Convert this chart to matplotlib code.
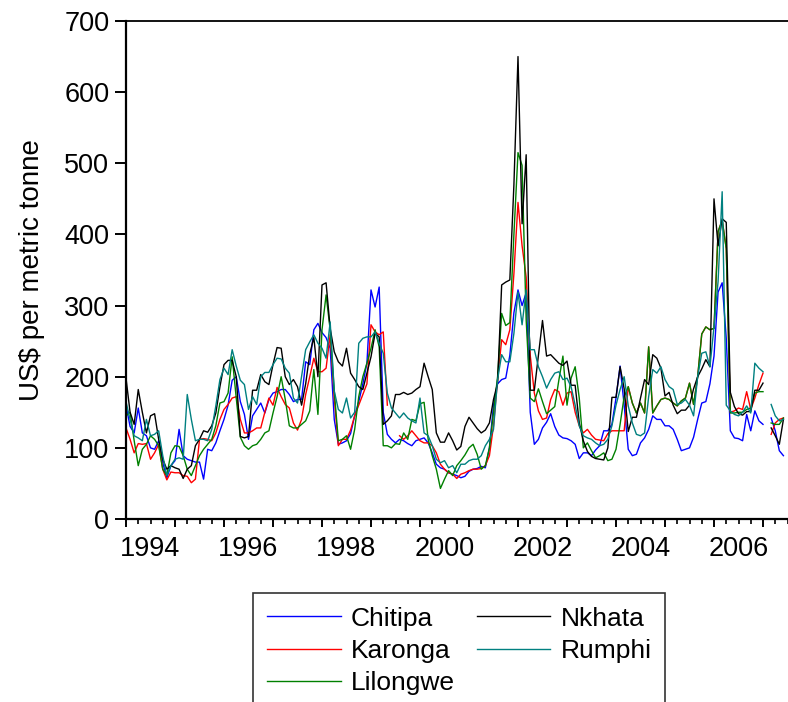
import numpy as np
import matplotlib
matplotlib.use('Agg')
import matplotlib.pyplot as plt

nan = np.nan

# monthly maize prices, US$ per metric tonne, Jan 1994 onwards
chitipa = [160, 130, 121, 156, 121, 117, 100, 98, 110, 79, 58, 75, 82, 126, 89, 84, 82, 80, 80, 56, 98, 96, 107, 124, 140, 160,
           195, 200, 165, 147, 112, 145, 154, 163, 149, 168, 177, 179, 182, 182, 175, 165, 168, 168, 221, 217, 266, 275, 262, 255, 240, 140, 105,
           107, 110, 120, 145, 165, 190, 219, 322, 298, 326, 150, 119, 112, 107, 112, 110, 106, 103, 110, 112, 114, 107, 93, 77, 72, 70, 65,
           63, 61, 58, 60, 67, 70, 71, 74, 72, 100, 160, 190, 196, 198, 230, 290, 322, 300, 318, 150, 105, 112, 128, 136, 148, 130, 118, 114,
           113, 110, 105, 85, 93, 93, 89, 97, 103, 124, 124, 133, 170, 215, 160, 98, 89, 91, 107, 114, 126, 145, 140, 140, 131,
           131, 126, 112, 96, 98, 100, 115, 140, 163, 165, 190, 229, 319, 332, 254, 124, 114, 113, 110, 147, 124, 152, 138, 133,
           nan, 142, 124, 96, 89]
karonga = [128, 112, 93, 106, 105, 106, 84, 93, 105, 70, 55, 66, 65, 65, 61, 60, 51, 56, 112, 113, 112, 110, 121, 140, 154, 161, 170,
           172, 140, 121, 121, 124, 128, 128, 150, 170, 160, 185, 172, 161, 156, 135, 125, 140, 175, 200, 226, 207, 207, 212, 259, 170, 103,
           112, 112, 125, 145, 160, 175, 190, 273, 263, 259, 263, 160, nan, nan, 117, 112, 117, 124, 117, 110, 107, 107, 103, 93, 77, 70, 65,
           63, 57, 63, 65, 68, 70, 70, 71, 75, 89, 131, 196, 252, 245, 266, 345, 445, 384, 340, 230, 177, 152, 140, 142, 168, 182, 179, 160,
           177, 179, 150, 131, 121, 126, 118, 112, 111, 110, 120, 124, 124, 124, 124,
           186, 163, 149, 163, 149, 242, 149, 159, 168, 170, 168, 163, 159, 166, 170, 191, 161, 200, 260, 270, 266, 268, 404, 420, 380,
           150, 152, 156, 154, 179, 154, 170, 189, 205,
           nan, 119, 135, 140, 142]
lilongwe = [145, 150, 110, 75, 98, 105, 117, 112, 103, 70, 61, 93, 103, 102, 89, 70, 61, 75, 89, 98, 105, 112, 131, 163, 165, 177, 228,
            170, 115, 103, 98, 103, 105, 112, 121, 124, 149, 172, 200, 168, 131, 128, 128, 133, 138, 152, 210, 147, 266, 315, 266, 180, 110,
            112, 117, 98, 126, 172, 200, 219, 240, 266, 242, 103, 103, 100, 106, 105, 121, 112, 140, 138, 162, 164, 112, 89, 70, 43, 56, 68,
            61, 75, 82, 90, 100, 105, 91, 70, 75, 100, 150, 200, 289, 272, 276, 400,
            515, 497, 280, 170, 165, 183, 165, 148, 153, 158, 195, 229, 160, 198, 214, 170, 100,
            107, 96, 86, 89, 93, 82, 84, 98, 133, 172, 186, 163, 149, 163, 149, 242, 149, 159, 168, 170, 168, 163, 159, 166,
            170, 191, 161, 200, 260, 270, 266, 268, 404, 420, 380,
            149, 149, 150, 150, 154, 156, 177, 179, 179,
            nan, 135, 133, 133, 142]
nkhata = [198, 150, 133, 182, 150, 121, 145, 148, 112, 84, 70, 75, 72, 70, 57, 70, 75, 103, 112, 124, 122, 131, 149, 186, 217, 223, 223,
          200, 116, 114, 116, 181, 181, 203, 193, 189, 217, 241, 240, 200, 189, 196, 186, 160, 190, 232, 255, 200, 329, 332, 268, 235, 221,
          215, 240, 205, 196, 186, 182, 205, 228, 261, 256, 133, 138, 145, 175, 175, 178, 175, 177, 182, 186, 219, 200, 182, 121, 108, 108, 121,
          110, 97, 102, 130, 143, 135, 127, 121, 125, 135, 168, 191, 329, 333, 336, 470, 650, 415, 512, 181, 181, 230, 279, 229, 231, 225, 219, 216,
          222, 188, 188, 135, 110, 95, 88, 85, 84, 83, 100, 171, 171, 214, 183, 123, 143, 143, 170, 196, 189, 231, 226, 212, 173,
          178, 160, 148, 153, 153, 160, 183, 200, 211, 224, 214, 450, 384, 422, 417, 178, 158, 148, 146, 151, 151, 181, 181, 191,
          nan, 128, 117, 105, 140]
rumphi = [165, 140, 117, 114, 110, 140, 117, 119, 124, 89, 61, 75, 84, 86, 84, 175, 140, 110, 112, 112, 110, 126, 159, 196, 212, 203, 238,
          215, 195, 189, 154, 172, 161, 200, 206, 206, 217, 226, 225, 212, 205, 170, 163, 200, 238, 249, 259, 247, 240, 226, 277, 180, 154,
          149, 170, 142, 150, 247, 254, 256, 256, 263, 247, 233, 177, 156, 149, 142, 149, 142, 138, 135, 170, 121, 117, 103, 84, 79, 82, 72,
          75, 65, 77, 77, 82, 84, 84, 89, 103, 112, 126, 196, 231, 221, 221, 261, 319, 273, 322, 238, 238, 214, 200, 184, 196, 205, 207, 196,
          198, 186, 160, 131, 117, 114, 112, 107, 103, 105, 112, 131, 160, 182, 200, 159, 135, 119, 117, 121, 172, 210, 205, 214, 196, 186, 182,
          161, 163, 168, 160, 145, 200, 233, 235, 214, 270, 334, 460, 160, 152, 147, 145, 150, 159, 149, 219, 212, 207,
          nan, 161, 145, 138, 140]

names = ['Chitipa', 'Karonga', 'Lilongwe', 'Nkhata', 'Rumphi']
colors = ['#0000ff', '#ff0000', '#008000', '#000000', '#008080']
series = [chitipa, karonga, lilongwe, nkhata, rumphi]

x = 1994 + np.arange(len(chitipa)) / 12

plt.rcParams['font.family'] = ['Liberation Sans', 'DejaVu Sans']

W, H = 788, 702
fig = plt.figure(figsize=(W / 100, H / 100), dpi=100)
ax = fig.add_axes([126 / W, 1 - 519 / H, (W - 126) / W, (519 - 21) / H])

lines = []
for s, c, n in zip(series, colors, names):
    l, = ax.plot(x, s, color=c, lw=1.0, label=n)
    lines.append(l)

ax.set_xlim(1994, 1994 + (W - 126) / 49.0)
ax.set_ylim(0, 700)

ax.spines['right'].set_visible(False)
for sp in ['left', 'bottom']:
    ax.spines[sp].set_linewidth(1.6)
ax.spines['top'].set_linewidth(1.3)

ax.set_yticks(range(0, 701, 100))
ax.tick_params(axis='y', length=8, width=1.4, pad=4, labelsize=19.5)

ax.set_xticks(range(1994, 2008))
ax.set_xticklabels([])
ax.set_xticks(np.arange(1994, 2007.55, 0.25), minor=True)
ax.tick_params(axis='x', which='major', length=6, width=1.4)
ax.tick_params(axis='x', which='minor', length=3.5, width=1.2)

# year labels sit in the middle of each labelled year
sec = ax.secondary_xaxis('bottom')
sec.set_xticks(np.arange(1994.5, 2007, 2), labels=[str(y) for y in range(1994, 2007, 2)])
sec.tick_params(length=0, pad=12, labelsize=19.5)
sec.spines['bottom'].set_visible(False)

ax.set_ylabel(r'US\$ per metric tonne', fontsize=20, labelpad=14)

leg = fig.legend(lines, names, loc='upper left', bbox_to_anchor=(253 / W, 1 - 593 / H),
                 ncol=2, fontsize=19, frameon=True, fancybox=False, edgecolor='black',
                 handlelength=2.8, handletextpad=0.38, columnspacing=0.83,
                 labelspacing=0.31, borderpad=0.52, borderaxespad=0)
leg.get_frame().set_linewidth(1.2)

fig.savefig('out.png', dpi=100)
